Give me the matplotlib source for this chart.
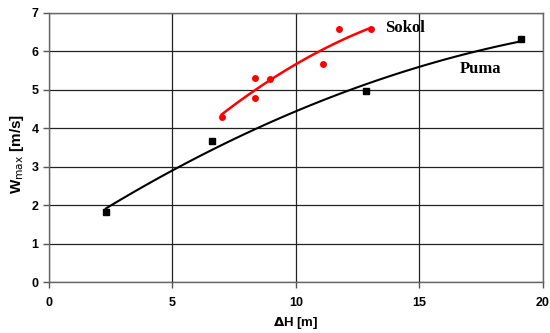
#!/usr/bin/env python3
# -*- coding: utf-8 -*-

import numpy as np
import matplotlib
matplotlib.use("Agg")
import matplotlib.pyplot as plt
from matplotlib.font_manager import FontProperties

# Puma (squares) and Sokol (circles) measurements
puma_dh = [2.3, 6.6, 12.85, 19.1]
puma_w = [1.81, 3.67, 4.96, 6.32]

sokol_dh = [7.0, 8.35, 8.35, 8.95, 11.1, 11.75, 13.05]
sokol_w = [4.29, 5.32, 4.80, 5.29, 5.66, 6.58, 6.59]

x_ticks = [0, 5, 10, 15, 20]
y_ticks = [0, 1, 2, 3, 4, 5, 6, 7]


def trend(xs, ys, deg=2, n=100):
    # Excel-style polynomial trendline over the data range
    c = np.polyfit(xs, ys, deg)
    xx = np.linspace(min(xs), max(xs), n)
    return xx, np.polyval(c, xx)


fig = plt.figure(figsize=(5.5, 3.33), dpi=100)
ax = fig.add_axes([0.089, 0.153, 0.898, 0.808])

ax.set_xlim(0, 20)
ax.set_ylim(0, 7)
ax.set_xticks(x_ticks)
ax.set_yticks(y_ticks)
ax.grid(True, color="#222222", linewidth=0.9)
ax.set_axisbelow(True)
for s in ax.spines.values():
    s.set_color("#666666")
    s.set_linewidth(1.0)
ax.tick_params(direction="out", length=4, color="#555555", width=1)

tick_fp = FontProperties(family="Liberation Sans", weight="bold", size=9)
for lab in ax.get_xticklabels() + ax.get_yticklabels():
    lab.set_fontproperties(tick_fp)
ax.tick_params(axis="x", pad=7)

px, py = trend(puma_dh, puma_w)
ax.plot(px, py, color="black", linewidth=1.5)
ax.plot(puma_dh, puma_w, "s", color="black", markersize=5)

sx, sy = trend(sokol_dh, sokol_w)
ax.plot(sx, sy, color="#ff0000", linewidth=1.8)
ax.plot(sokol_dh, sokol_w, "o", color="#ff0000", markersize=5, markeredgewidth=0)

ax.text(13.6, 6.62, "Sokol", family="Liberation Serif", weight="bold", size=12,
        va="center", ha="left")
ax.text(16.65, 5.55, "Puma", family="Liberation Serif", weight="bold", size=12,
        va="center", ha="left")

ax.set_xlabel(r"$\mathbf{\Delta}$H [m]", family="Liberation Sans", weight="bold", size=9.5,
              labelpad=4)
ax.set_ylabel(r"W$_{\mathrm{max}}$ [m/s]", family="Liberation Sans", weight="bold", size=11,
              labelpad=5)
ax.yaxis.set_label_coords(-0.046, 0.475)

fig.savefig("out.png", dpi=100)
